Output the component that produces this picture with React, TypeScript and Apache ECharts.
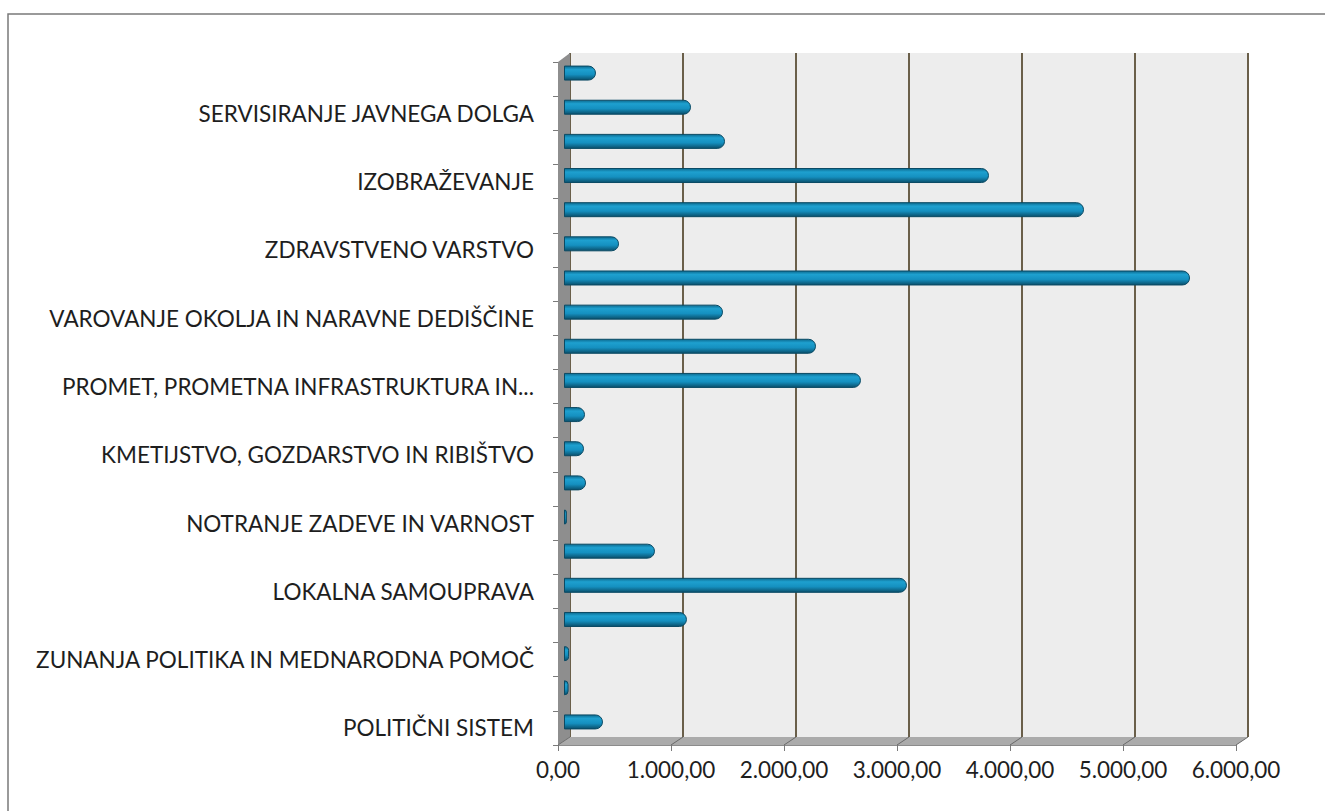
import React, { useEffect, useRef } from "react";
import * as echarts from "echarts";

// Categories from bottom to top (only every other one is labelled in the picture)
const categories: string[] = [
  "POLITIČNI SISTEM",
  "EKONOMSKA IN FISKALNA ADMINISTRACIJA",
  "ZUNANJA POLITIKA IN MEDNARODNA POMOČ",
  "SKUPNE ADMINISTRATIVNE SLUŽBE IN SPLOŠNE JAVNE STORITVE",
  "LOKALNA SAMOUPRAVA",
  "OBRAMBA IN UKREPI OB IZREDNIH DOGODKIH",
  "NOTRANJE ZADEVE IN VARNOST",
  "TRG DELA IN DELOVNI POGOJI",
  "KMETIJSTVO, GOZDARSTVO IN RIBIŠTVO",
  "PRIDOBIVANJE IN DISTRIBUCIJA ENERGETSKIH SUROVIN",
  "PROMET, PROMETNA INFRASTRUKTURA IN KOMUNIKACIJE",
  "GOSPODARSTVO",
  "VAROVANJE OKOLJA IN NARAVNE DEDIŠČINE",
  "PROSTORSKO PLANIRANJE IN STANOVANJSKO KOMUNALNA DEJAVNOST",
  "ZDRAVSTVENO VARSTVO",
  "KULTURA, ŠPORT IN NEVLADNE ORGANIZACIJE",
  "IZOBRAŽEVANJE",
  "SOCIALNO VARSTVO",
  "SERVISIRANJE JAVNEGA DOLGA",
  "INTERVENCIJSKI PROGRAMI IN OBVEZNOSTI",
];

const values: number[] = [
  345, 40, 45, 1088, 3035, 805, 25, 195, 177, 186,
  2628, 2230, 1407, 5540, 487, 4602, 3761, 1425, 1124, 283,
];

const xMin = 0;
const xMax = 6000;
const xInterval = 1000;

function fmtNum(v: number): string {
  const fixed = v.toFixed(2);
  const [intPart, dec] = fixed.split(".");
  const withDots = intPart.replace(/\B(?=(\d{3})+(?!\d))/g, ".");
  return withDots + "," + dec;
}

function fmtCat(name: string): string {
  return name.length > 40 ? name.slice(0, 34) + "..." : name;
}

const W = 1325;
const H = 811;
// back wall
const BACK_L = 570, BACK_T = 53, BACK_R = 1248, BACK_B = 737;
// front plane
const FRONT_L = 558, FRONT_T = 62, FRONT_B = 745;
const PW = BACK_R - BACK_L;
const DX = BACK_L - FRONT_L;
const DY = FRONT_B - BACK_B;
// bars plane (middle depth)
const MID_L = 564, MID_T = 56, MID_B = 739;

const FONT = "Lato, 'Open Sans', sans-serif";

export default function App() {
  const ref = useRef<HTMLDivElement>(null);
  useEffect(() => {
    if (!ref.current) return;
    const chart = echarts.init(ref.current, null, { renderer: "svg" });
    const ticks: number[] = [];
    for (let v = xMin; v <= xMax; v += xInterval) ticks.push(v);
    const option: any = {
      animation: false,
      backgroundColor: "#ffffff",
      grid: [
        {
          left: BACK_L, top: BACK_T, width: PW, height: BACK_B - BACK_T,
          show: true, backgroundColor: "#ededed", borderWidth: 0,
        },
        {
          left: FRONT_L, top: FRONT_T, width: PW, height: FRONT_B - FRONT_T,
        },
        {
          left: MID_L, top: MID_T, width: PW, height: MID_B - MID_T,
        },
      ],
      xAxis: [
        {
          gridIndex: 0, type: "value", min: xMin, max: xMax, interval: xInterval,
          axisLine: { show: false }, axisTick: { show: false }, axisLabel: { show: false },
          splitLine: { show: true, lineStyle: { color: "#6a5f4a", width: 2 } },
        },
        {
          gridIndex: 1, type: "value", min: xMin, max: xMax, interval: xInterval,
          axisLine: { show: true, lineStyle: { color: "#8c8c8c", width: 1 } },
          axisTick: { show: true, length: 6, lineStyle: { color: "#7a7a7a" } },
          splitLine: { show: false },
          axisLabel: {
            show: true, color: "#1e1e1e", fontFamily: FONT, fontSize: 22.5, margin: 13,
            formatter: (v: number) => fmtNum(v),
          },
        },
        {
          gridIndex: 2, type: "value", min: xMin, max: xMax, show: false,
        },
      ],
      yAxis: [
        {
          gridIndex: 0, type: "category", data: categories, show: false,
        },
        {
          gridIndex: 1, type: "category", data: categories,
          axisLine: { show: false },
          axisTick: { show: true, length: 5, interval: 0, lineStyle: { color: "#7a7a7a" } },
          axisLabel: {
            show: true, interval: (i: number) => i % 2 === 0,
            color: "#1e1e1e", fontFamily: FONT, fontSize: 22.5, margin: 24,
            padding: [3, 0, 0, 0],
            formatter: (v: string) => fmtCat(v),
          },
        },
        {
          gridIndex: 2, type: "category", data: categories, show: false,
        },
      ],
      graphic: [
        {
          type: "rect", z: -1, silent: true,
          shape: { x: 8, y: 14, width: W + 20, height: H + 20 },
          style: { fill: "none", stroke: "#7a7a7a", lineWidth: 1.5 },
        },
        {
          type: "polygon", z: 1, silent: true,
          shape: { points: [[FRONT_L, FRONT_T], [BACK_L, BACK_T], [BACK_L, BACK_B], [FRONT_L, FRONT_B]] },
          style: { fill: "#8e8e8e" },
        },
        {
          type: "polygon", z: 1, silent: true,
          shape: { points: [[FRONT_L, FRONT_B], [BACK_L, BACK_B], [BACK_R, BACK_B], [BACK_R - DX, FRONT_B]] },
          style: { fill: "#ababab" },
        },
        ...ticks.map((v) => {
          const xb = BACK_L + ((v - xMin) / (xMax - xMin)) * PW;
          return {
            type: "line", z: 1, silent: true,
            shape: { x1: xb, y1: BACK_B, x2: xb - DX, y2: BACK_B + DY },
            style: { stroke: "#6a6a6a", lineWidth: 1 },
          };
        }),
      ],
      series: [
        {
          type: "bar",
          xAxisIndex: 2,
          yAxisIndex: 2,
          data: values,
          barWidth: 15,
          z: 5,
          itemStyle: {
            borderRadius: [0, 7, 7, 0],
            borderColor: "#0a4a64",
            borderWidth: 1,
            color: new echarts.graphic.LinearGradient(0, 0, 0, 1, [
              { offset: 0, color: "#0c6a8f" },
              { offset: 0.25, color: "#1ea0cf" },
              { offset: 0.6, color: "#1590c0" },
              { offset: 1, color: "#0a4f6b" },
            ]),
          },
        },
      ],
    };
    chart.setOption(option);
    return () => chart.dispose();
  }, []);
  return (
    <div
      ref={ref}
      style={{ position: "fixed", left: 0, top: 0, width: W, height: H }}
    />
  );
}
